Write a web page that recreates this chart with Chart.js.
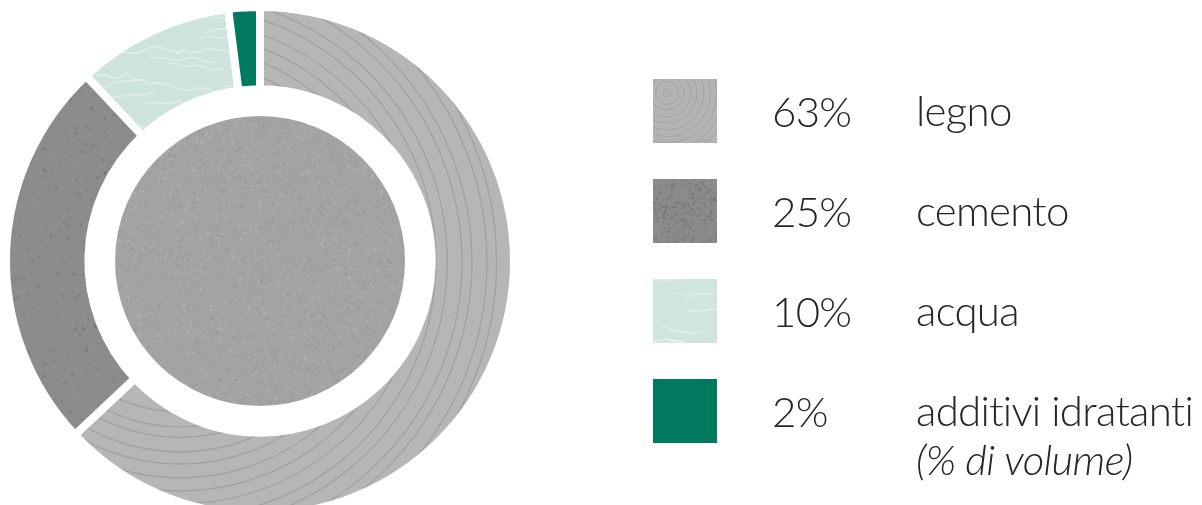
<!DOCTYPE html>
<html>
<head>
<meta charset="utf-8">
<script src="https://cdn.jsdelivr.net/npm/chart.js@4.4.1/dist/chart.umd.min.js"></script>
<style>
  html, body { margin: 0; padding: 0; background: #ffffff; overflow: hidden; }
  #wrap { position: absolute; left: 0; top: 0; width: 1202px; height: 522px; }
</style>
</head>
<body>
<div id="wrap"><canvas id="c"></canvas></div>
<script>
// ---- data ----
const categories = ['legno', 'cemento', 'acqua', 'additivi idratanti'];
const values = [63, 25, 10, 2];
const valueLabels = ['63%', '25%', '10%', '2%'];
const note = '(% di volume)';

// ---- styles ----
const W = 1202, H = 522;
const TEXT = '#262626';
const FONT = 'Lato, "Open Sans", sans-serif';
const FSIZE = 42;

function rng(seed) {
  let s = seed >>> 0;
  return () => { s = (Math.imul(s, 1664525) + 1013904223) >>> 0; return s / 4294967296; };
}

function makeCanvas(w, h) { const c = document.createElement('canvas'); c.width = w; c.height = h; return c; }

function woodTexture(w, h, cx, cy, r0, r1, step, base, line, lw) {
  const c = makeCanvas(w, h), g = c.getContext('2d');
  g.fillStyle = base; g.fillRect(0, 0, w, h);
  let k = 0;
  for (let r = r0; r < r1; r += step * (0.75 + 0.5 * Math.abs(Math.sin(k * 1.7)))) {
    g.beginPath(); g.arc(cx, cy, r, 0, Math.PI * 2);
    g.strokeStyle = line; g.lineWidth = lw; g.stroke();
    k++;
  }
  return c;
}

function noiseTexture(w, h, base, seed, n, dark, light, size) {
  const c = makeCanvas(w, h), g = c.getContext('2d');
  g.fillStyle = base; g.fillRect(0, 0, w, h);
  const r = rng(seed);
  for (let i = 0; i < n; i++) {
    const x = r() * w, y = r() * h, s = size * (0.4 + r());
    g.fillStyle = r() < 0.5 ? dark : light;
    g.fillRect(x, y, s, s);
  }
  return c;
}

function waterTexture(w, h, x0, y0, x1, y1, base, seed, count, len) {
  const c = makeCanvas(w, h), g = c.getContext('2d');
  g.fillStyle = base; g.fillRect(0, 0, w, h);
  const r = rng(seed);
  g.strokeStyle = 'rgba(255,255,255,0.35)'; g.lineWidth = 1.8; g.lineCap = 'round';
  for (let i = 0; i < count; i++) {
    let x = x0 + r() * (x1 - x0), y = y0 + r() * (y1 - y0);
    g.beginPath(); g.moveTo(x, y);
    for (let j = 0; j < 2; j++) {
      const nx = x + (0.4 + r() * 0.6) * len, ny = y + (r() - 0.5) * len * 0.3;
      g.bezierCurveTo(x + len * 0.3, y - len * 0.2 * r(), nx - len * 0.3, ny + len * 0.2 * r(), nx, ny);
      x = nx; y = ny;
    }
    g.stroke();
  }
  return c;
}

const ctx0 = document.createElement('canvas').getContext('2d');
const texLegno = woodTexture(W, H, 180, 262, 150, 360, 12, '#b6b6b6', 'rgba(135,135,135,0.45)', 1.3);
const texCemento = noiseTexture(W, H, '#8c8c8c', 7, 9000, 'rgba(95,95,95,0.30)', 'rgba(165,165,165,0.22)', 2.2);
const texAcqua = waterTexture(W, H, 60, 0, 240, 140, '#cde3dc', 11, 28, 45);
const texCenter = noiseTexture(W, H, '#a3a3a3', 3, 26000, 'rgba(140,140,140,0.35)', 'rgba(195,195,195,0.35)', 1.8);

const patterns = [
  ctx0.createPattern(texLegno, 'no-repeat'),
  ctx0.createPattern(texCemento, 'no-repeat'),
  ctx0.createPattern(texAcqua, 'no-repeat'),
  '#007a5e'
];

const swatches = [
  woodTexture(64, 64, 14, 14, 4, 100, 6, '#b3b3b3', 'rgba(140,140,140,0.4)', 1),
  noiseTexture(64, 64, '#8a8a8a', 5, 500, 'rgba(100,100,100,0.3)', 'rgba(160,160,160,0.22)', 2),
  waterTexture(64, 64, -20, 0, 50, 64, '#d0e5de', 19, 6, 30),
  null
];

const centerDisc = {
  id: 'centerDisc',
  afterDatasetsDraw(chart) {
    const a = chart.getDatasetMeta(0).data[0];
    const g = chart.ctx;
    g.save();
    g.beginPath(); g.arc(a.x, a.y, 145, 0, Math.PI * 2);
    g.fillStyle = g.createPattern(texCenter, 'no-repeat');
    g.fill();
    g.restore();
  }
};

const sideLegend = {
  id: 'sideLegend',
  afterDraw(chart) {
    const g = chart.ctx;
    g.save();
    if ('letterSpacing' in g) g.letterSpacing = '-0.7px';
    categories.forEach((cat, i) => {
      const y = 79 + i * 100;
      if (swatches[i]) g.drawImage(swatches[i], 653, y, 64, 64);
      else { g.fillStyle = patterns[i]; g.fillRect(653, y, 64, 64); }
      g.fillStyle = TEXT;
      g.font = '300 ' + FSIZE + 'px ' + FONT;
      g.textBaseline = 'alphabetic';
      g.fillText(valueLabels[i], 772, y + 48);
      g.fillText(cat, 916, y + 47);
    });
    g.font = 'italic 300 ' + FSIZE + 'px ' + FONT;
    g.fillText(note, 916, 475);
    g.restore();
  }
};

function build() {
  new Chart(document.getElementById('c'), {
    type: 'doughnut',
    data: {
      labels: categories,
      datasets: [{
        data: values,
        backgroundColor: patterns,
        borderColor: '#ffffff',
        borderWidth: 8,
        hoverOffset: 0
      }]
    },
    options: {
      responsive: true,
      maintainAspectRatio: false,
      animation: false,
      radius: 254,
      cutout: 173,
      layout: { padding: { left: 0, top: 0, right: 682, bottom: 0 } },
      plugins: { legend: { display: false }, tooltip: { enabled: false } }
    },
    plugins: [centerDisc, sideLegend]
  });
}

if (document.fonts && document.fonts.load) {
  Promise.all([
    document.fonts.load('300 ' + FSIZE + 'px Lato'),
    document.fonts.load('italic 300 ' + FSIZE + 'px Lato')
  ]).then(build, build);
} else build();
</script>
</body>
</html>
